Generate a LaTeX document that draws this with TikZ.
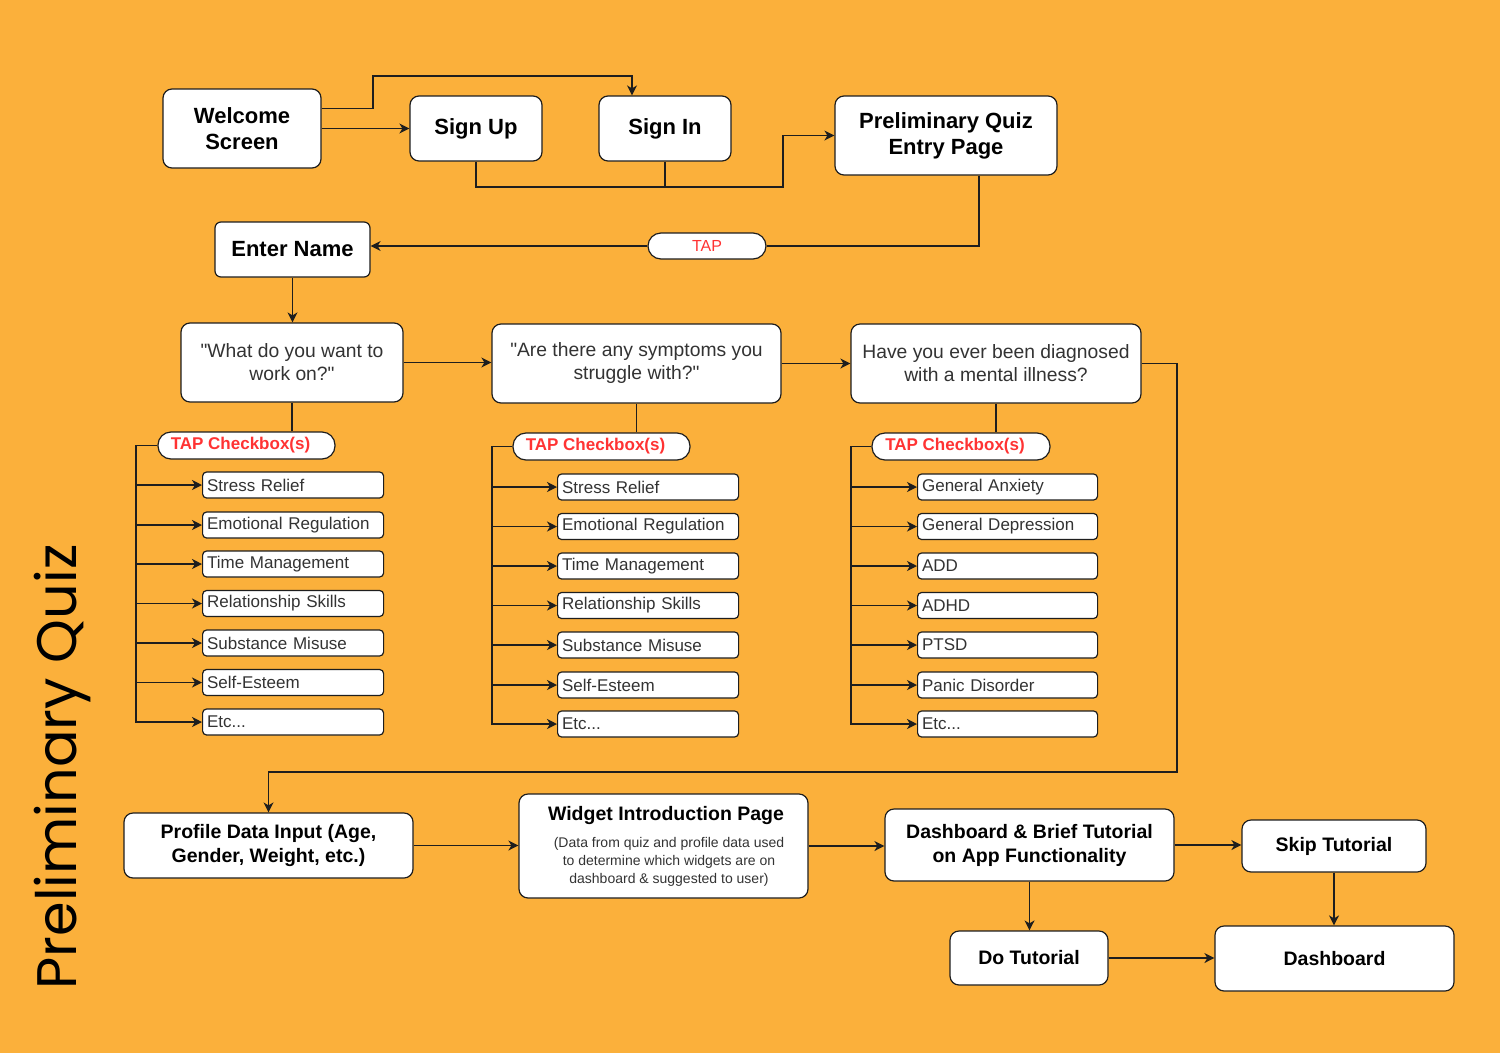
\documentclass[tikz,border=0pt]{standalone}
\usepackage{fontspec}
\setmainfont{Liberation Sans}[Ligatures=TeXOff]
\newfontfamily\titlefont{Poppins}
\usetikzlibrary{arrows.meta}
\definecolor{bg}{RGB}{251,176,59}
\definecolor{txtgray}{RGB}{51,51,51}
\definecolor{tapred}{RGB}{255,51,51}
\definecolor{edge}{RGB}{30,30,30}
\newcommand{\sq}{\char34 }
\tikzset{
 box/.style={draw=edge, fill=white, line width=1.2pt, rounded corners=9pt, align=center, inner sep=0pt},
 bigb/.style={font=\fontsize{22}{26}\selectfont\bfseries},
 midb/.style={font=\fontsize{19.5}{23.5}\selectfont\bfseries},
 qtext/.style={font=\fontsize{19.3}{23}\selectfont, text=txtgray},
 item/.style={draw=edge, fill=white, line width=1.2pt, rounded corners=4pt, anchor=west, minimum height=26pt, text width=172pt, inner xsep=4.5pt, inner ysep=0pt, align=left, font=\fontsize{17}{20}\selectfont, text=txtgray},
 pill/.style={draw=edge, fill=white, line width=1.2pt, rounded corners=13pt, inner sep=0pt, text=tapred},
 conn/.style={line width=1.5pt, draw=edge},
 arr/.style={conn, -{Stealth[length=10pt,width=10pt,inset=3pt]}},
}
\begin{document}
\begin{tikzpicture}[x=1pt,y=-1pt]
\useasboundingbox (0,0) rectangle (1500,1053);
\fill[bg] (0,0) rectangle (1500,1053);

% title
\node[rotate=90, inner sep=0pt] (title) at (62,767) {\resizebox{445pt}{!}{\titlefont Preliminary Quiz}};

% top row
\node[box, bigb, minimum width=158pt, minimum height=79pt] (welcome) at (242,128.5) {Welcome\\Screen};
\node[box, bigb, minimum width=132pt, minimum height=65pt] (signup) at (476,128.5) {Sign Up};
\node[box, bigb, minimum width=132pt, minimum height=65pt] (signin) at (665,128.5) {Sign In};
\node[box, bigb, minimum width=222pt, minimum height=79pt] (pq) at (946,135.5) {Preliminary Quiz\\Entry Page};
\node[box, bigb, minimum width=155pt, minimum height=55pt, rounded corners=6pt] (entername) at (292.5,249.5) {Enter Name};
\node[pill, minimum width=118pt, minimum height=26pt, font=\fontsize{16}{18}\selectfont] (tap) at (707,246) {TAP};

% questions
\node[box, qtext, minimum width=222pt, minimum height=79pt] (q1) at (292,362.5) {\sq What do you want to\\work on?\sq};
\node[box, qtext, minimum width=289pt, minimum height=79pt] (q2) at (636.5,363.5) {\sq Are there any symptoms you\\struggle with?\sq};
\node[box, qtext, minimum width=290pt, minimum height=79pt] (q3) at (996,363.5) {Have you ever been diagnosed\\with a mental illness?};

% pills
\node[pill, minimum width=177pt, minimum height=27pt, font=\fontsize{17}{20}\selectfont\bfseries] (p1) at (246.5,445.5) {TAP Checkbox(s)\hspace*{12pt}};
\node[pill, minimum width=177pt, minimum height=27pt, font=\fontsize{17}{20}\selectfont\bfseries] (p2) at (601.5,446.5) {TAP Checkbox(s)\hspace*{12pt}};
\node[pill, minimum width=178pt, minimum height=27pt, font=\fontsize{17}{20}\selectfont\bfseries] (p3) at (961,446.5) {TAP Checkbox(s)\hspace*{12pt}};

% column 1 items
\node[item] (i11) at (202,485) {Stress Relief};
\node[item] (i12) at (202,525) {Emotional Regulation};
\node[item] (i13) at (202,564) {Time Management};
\node[item] (i14) at (202,603.5) {Relationship Skills};
\node[item] (i15) at (202,643) {Substance Misuse};
\node[item] (i16) at (202,682.5) {Self-Esteem};
\node[item] (i17) at (202,722) {Etc...};
% column 2 items
\node[item] (i21) at (557,487) {Stress Relief};
\node[item] (i22) at (557,526.5) {Emotional Regulation};
\node[item] (i23) at (557,566) {Time Management};
\node[item] (i24) at (557,605.5) {Relationship Skills};
\node[item] (i25) at (557,645) {Substance Misuse};
\node[item] (i26) at (557,685) {Self-Esteem};
\node[item] (i27) at (557,724) {Etc...};
% column 3 items
\node[item, text width=171pt] (i31) at (917,487) {General Anxiety};
\node[item, text width=171pt] (i32) at (917,526.5) {General Depression};
\node[item, text width=171pt] (i33) at (917,566) {ADD};
\node[item, text width=171pt] (i34) at (917,605.5) {ADHD};
\node[item, text width=171pt] (i35) at (917,645) {PTSD};
\node[item, text width=171pt] (i36) at (917,685) {Panic Disorder};
\node[item, text width=171pt] (i37) at (917,724) {Etc...};

% bottom
\node[box, midb, minimum width=289pt, minimum height=65pt] (profile) at (268.5,845.5) {Profile Data Input (Age,\\Gender, Weight, etc.)};
\node[box, minimum width=289pt, minimum height=104pt] (widget) at (663.5,846) {};
\node[midb, inner sep=0pt] (widgettitle) at (666,815) {Widget Introduction Page};
\node[font=\fontsize{14}{18}\selectfont, text=txtgray, align=center, inner sep=0pt] (widgetnote) at (669,862) {(Data from quiz and profile data used\\to determine which widgets are on\\dashboard \& suggested to user)};
\node[box, font=\fontsize{19.5}{24}\selectfont\bfseries, minimum width=289pt, minimum height=72pt] (db) at (1029.5,845) {Dashboard \& Brief Tutorial\\on App Functionality};
\node[box, midb, minimum width=184pt, minimum height=52pt] (skip) at (1334,846) {Skip Tutorial};
\node[box, midb, minimum width=158pt, minimum height=54pt] (do) at (1029,958) {Do Tutorial};
\node[box, midb, minimum width=239pt, minimum height=65pt] (dash) at (1334.5,958.5) {Dashboard};

% connectors top
\coordinate (up1) at (373,76);
\coordinate (jn) at (783,187);
\draw[arr] ([yshift=20pt]welcome.east) -| (up1) -| ([xshift=-33pt]signin.north);
\draw[arr] (welcome.east) -- (signup.west);
\draw[arr] (signup.south) |- (jn) |- (pq.west);
\draw[conn] (signin.south) -- (signin.south |- jn);
\draw[conn] ([xshift=33pt]pq.south) |- (tap.east);
\draw[arr] (tap.west) -- (tap.west -| entername.east);
\draw[arr] (entername.south) -- (entername.south |- q1.north);
\draw[arr] (q1.east) -- (q1.east -| q2.west);
\draw[arr] (q2.east) -- (q2.east -| q3.west);
\coordinate (rt) at (1177,772);
\draw[arr] (q3.east) -| (rt) -| (profile.north);

% question to pills
\draw[conn] (q1.south) -- (q1.south |- p1.north);
\draw[conn] (q2.south) -- (q2.south |- p2.north);
\draw[conn] (q3.south) -- (q3.south |- p3.north);

% branches
\draw[arr] (p1.west) -| ([xshift=-66pt]i17.west) -- (i17.west);
\foreach \k in {1,...,6} { \draw[arr] ([xshift=-66pt]i1\k.west) -- (i1\k.west); }
\draw[arr] (p2.west) -| ([xshift=-65pt]i27.west) -- (i27.west);
\foreach \k in {1,...,6} { \draw[arr] ([xshift=-65pt]i2\k.west) -- (i2\k.west); }
\draw[arr] (p3.west) -| ([xshift=-66pt]i37.west) -- (i37.west);
\foreach \k in {1,...,6} { \draw[arr] ([xshift=-66pt]i3\k.west) -- (i3\k.west); }

% bottom connectors
\draw[arr] (profile.east) -- (profile.east -| widget.west);
\draw[arr] (widget.east) -- (widget.east -| db.west);
\draw[arr] (db.east) -- (db.east -| skip.west);
\draw[arr] (db.south) -- (db.south |- do.north);
\draw[arr] (skip.south) -- (skip.south |- dash.north);
\draw[arr] (do.east) -- (do.east -| dash.west);
\end{tikzpicture}
\end{document}
